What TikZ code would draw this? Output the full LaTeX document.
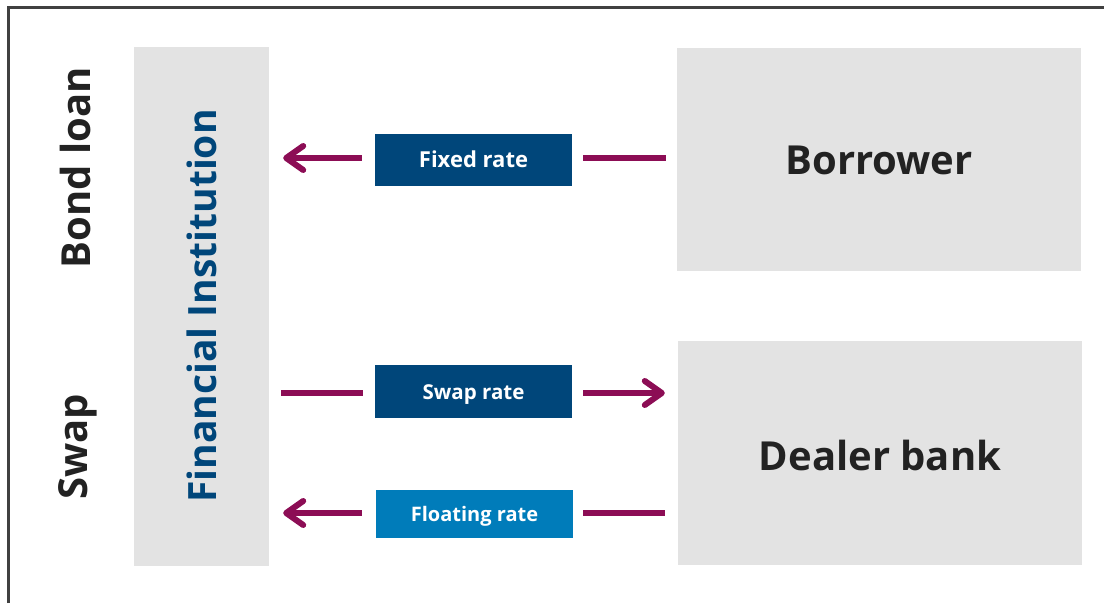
\documentclass[tikz,border=0pt]{standalone}
\usepackage{fontspec}
\setmainfont{Open Sans}
\usetikzlibrary{arrows.meta}
\definecolor{boxgray}{HTML}{E3E3E3}
\definecolor{darkblue}{HTML}{00467A}
\definecolor{lightblue}{HTML}{007CBA}
\definecolor{mag}{HTML}{8C0D55}
\definecolor{txt}{HTML}{222222}
\definecolor{frame}{HTML}{404040}
\tikzset{
  graybox/.style={fill=boxgray, draw=none, inner sep=0pt, anchor=center},
  ratebox/.style={draw=none, inner sep=0pt, minimum width=197pt, text=white, text height=15pt, text depth=0pt},
  bigtxt/.style={text=txt, font=\bfseries\fontsize{40}{48}\selectfont},
  side/.style={bigtxt, rotate=90, anchor=base, inner sep=0pt},
  conn/.style={draw=mag, line width=6pt},
  arr/.style={conn, -{Straight Barb[length=17pt,width=24pt,round]}},
}
\begin{document}
\begin{tikzpicture}[x=1pt,y=-1pt]
\useasboundingbox (0,0) rectangle (1104,603);
% frame
\coordinate (fr1) at (8,603);
\coordinate (fr2) at (8,7);
\coordinate (fr3) at (1104,7);
\draw[frame, line width=3pt] (fr1) -- (fr2) -- (fr3);
% boxes
\node[graybox, minimum width=135pt, minimum height=519pt] (fi) at (201.5,306.5) {};
\node[side, text=darkblue, font=\bfseries\fontsize{39}{46}\selectfont] (filab) at (216,306) {Financial Institution};
\node[graybox, minimum width=404pt, minimum height=223pt] (bor) at (879,159.5) {};
\node[bigtxt] (borlab) at (879,160) {Borrower};
\node[graybox, minimum width=404pt, minimum height=224pt] (dea) at (880,453) {};
\node[bigtxt] (dealab) at (880,455) {Dealer bank};
% side labels
\node[side] (bond) at (90,168) {Bond loan};
\node[side] (swp) at (87,447) {Swap};
% rate boxes
\node[ratebox, fill=darkblue, minimum height=52pt, font=\bfseries\fontsize{22}{26}\selectfont] (fixed) at (473.5,160) {Fixed rate};
\node[ratebox, fill=darkblue, minimum height=53pt, font=\bfseries\fontsize{20.5}{26}\selectfont] (swap) at (473.5,391.5) {Swap rate};
\node[ratebox, fill=lightblue, minimum height=48pt, font=\bfseries\fontsize{20}{26}\selectfont] (float) at (474.5,514) {Floating rate};
% connector rows
\coordinate (r1) at (0,158);
\coordinate (r2) at (0,393);
\coordinate (r3) at (0,513);
% connectors
\draw[arr] ([xshift=-13pt]fixed.west |- r1) -- ([xshift=14pt]fi.east |- r1);
\draw[conn] ([xshift=-11pt]bor.west |- r1) -- ([xshift=11pt]fixed.east |- r1);
\draw[conn] ([xshift=12pt]fi.east |- r2) -- ([xshift=-12pt]swap.west |- r2);
\draw[arr] ([xshift=11pt]swap.east |- r2) -- ([xshift=-13pt]dea.west |- r2);
\draw[arr] ([xshift=-14pt]float.west |- r3) -- ([xshift=14pt]fi.east |- r3);
\draw[conn] ([xshift=-13pt]dea.west |- r3) -- ([xshift=10pt]float.east |- r3);
\end{tikzpicture}
\end{document}
